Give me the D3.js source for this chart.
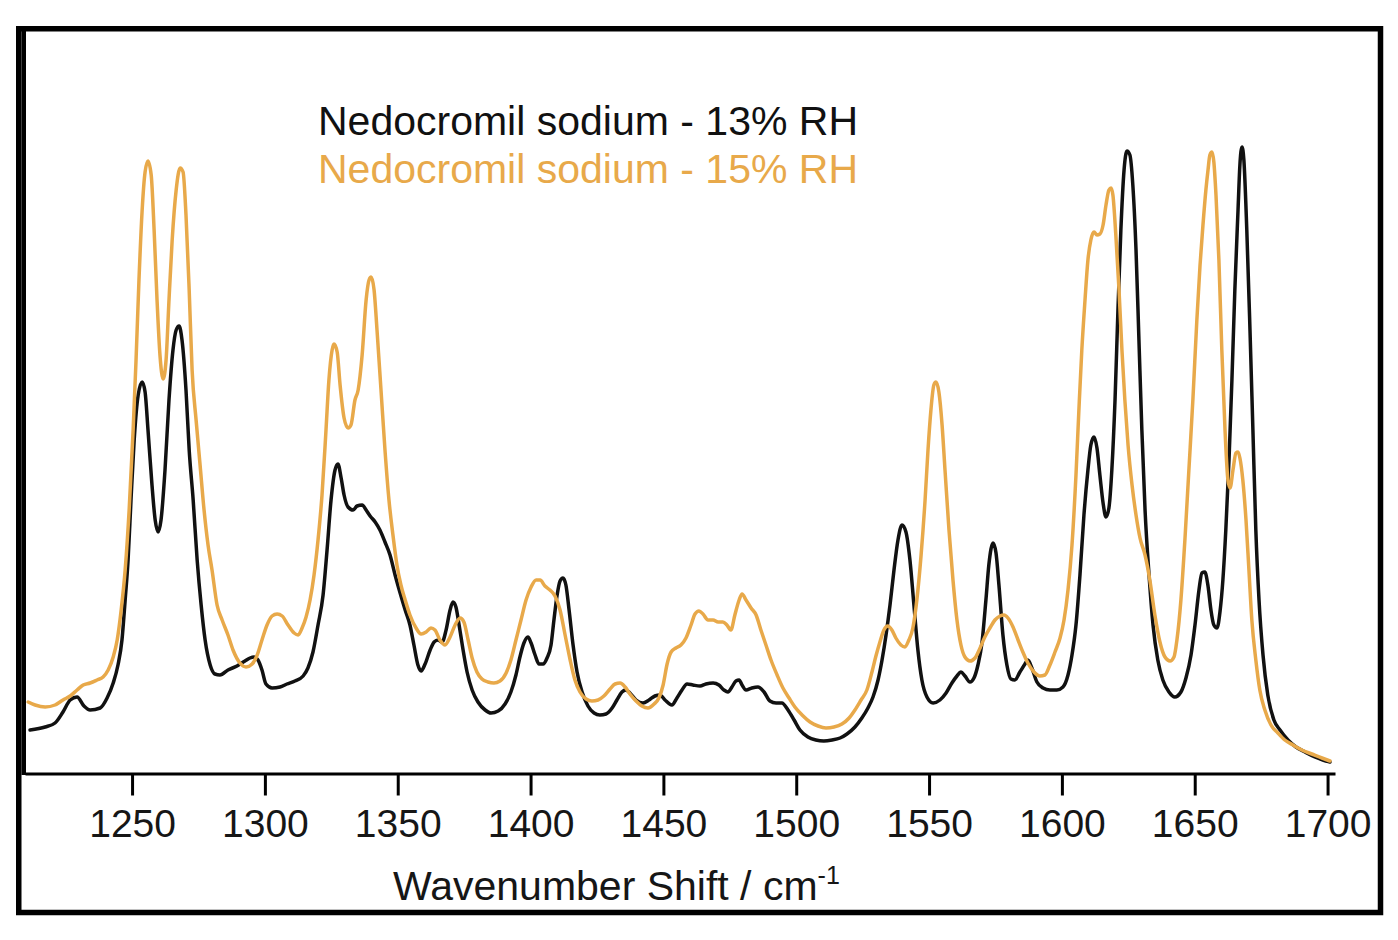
<!DOCTYPE html>
<html><head><meta charset="utf-8">
<script src="https://cdn.jsdelivr.net/npm/d3@7"></script>
<style>body{margin:0;background:#fff} svg{display:block}</style>
</head><body><svg id="c" width="1398" height="940"></svg>
<script>
// Wavenumber (cm-1) and Raman intensity (a.u.)
const wn13=[1211.6,1217.3,1221.0,1224.0,1226.7,1229.3,1231.9,1234.2,1238.0,1240.6,
1242.9,1244.7,1246.2,1247.4,1248.5,1249.6,1250.8,1252.3,1253.8,1254.9,
1256.0,1257.5,1258.7,1259.8,1260.9,1262.4,1263.9,1265.4,1266.6,1267.7,
1268.8,1270.3,1271.5,1273.0,1274.5,1276.0,1277.5,1279.4,1281.2,1283.1,
1286.1,1289.5,1292.5,1294.4,1295.9,1297.4,1298.9,1300.4,1302.7,1305.7,
1308.3,1311.3,1314.4,1316.2,1318.1,1320.0,1321.9,1323.4,1324.9,1326.4,
1327.5,1328.7,1329.8,1331.3,1333.2,1334.7,1336.6,1338.1,1339.6,1341.5,
1343.3,1345.2,1347.1,1349.0,1350.9,1352.8,1354.6,1356.1,1357.6,1358.8,
1360.3,1362.2,1363.7,1365.2,1366.7,1368.2,1369.7,1370.8,1371.9,1373.1,
1374.6,1376.1,1378.0,1380.2,1382.9,1385.1,1387.8,1390.4,1392.6,1394.5,
1396.0,1397.5,1399.0,1400.2,1401.7,1403.2,1404.7,1406.2,1407.7,1408.8,
1410.0,1411.1,1412.2,1413.3,1414.5,1416.0,1417.5,1419.4,1421.6,1423.9,
1426.1,1428.4,1430.7,1432.5,1434.4,1435.9,1437.4,1439.7,1442.3,1444.6,
1446.8,1448.7,1450.6,1453.2,1455.1,1457.0,1458.9,1461.1,1463.8,1466.0,
1468.7,1470.9,1472.8,1474.3,1475.8,1477.3,1478.5,1479.6,1481.1,1483.3,
1485.6,1487.9,1490.1,1492.4,1494.6,1496.9,1499.2,1501.4,1504.4,1507.4,
1510.4,1513.5,1516.5,1519.1,1522.1,1524.7,1527.0,1528.9,1530.8,1532.3,
1533.8,1535.3,1536.8,1538.3,1539.8,1541.3,1542.8,1544.3,1545.8,1547.3,
1549.2,1551.5,1554.1,1556.4,1558.6,1560.5,1562.0,1563.5,1565.4,1566.9,
1568.4,1569.9,1571.4,1572.5,1574.1,1575.2,1576.3,1577.8,1579.3,1580.8,
1582.3,1584.2,1586.1,1587.2,1588.7,1590.6,1592.9,1595.5,1598.1,1600.4,
1602.3,1603.8,1605.3,1606.8,1608.3,1609.8,1610.9,1612.1,1613.2,1614.3,
1615.5,1616.6,1617.7,1618.8,1620.0,1621.1,1622.2,1623.4,1624.5,1625.6,
1626.7,1627.9,1629.0,1630.1,1631.3,1632.8,1634.3,1636.1,1638.0,1640.3,
1642.5,1644.8,1646.7,1648.6,1650.1,1651.6,1652.7,1653.8,1655.0,1656.1,
1657.2,1658.4,1659.5,1660.6,1661.7,1662.9,1664.0,1665.1,1666.3,1667.0,
1667.8,1668.5,1669.6,1670.8,1671.9,1673.0,1674.2,1675.7,1677.5,1679.8,
1682.1,1685.1,1688.1,1691.5,1695.2,1698.2,1700.9];
const int13=[43,46,50,61,73,76,67,63,65,75,
90,108,133,173,213,273,333,378,391,381,
343,288,253,241,253,303,373,423,443,447,
433,383,323,273,213,168,133,108,99,98,
103,107,112,115,116,113,103,89,85,86,
89,92,97,105,121,148,178,223,273,303,
309,295,278,266,263,267,268,263,257,251,
243,231,218,198,180,163,148,128,108,102,
109,123,131,133,131,143,163,171,166,148,
123,101,83,71,63,60,62,69,81,98,
116,130,136,130,118,109,109,115,128,153,
178,192,195,188,163,128,101,81,67,60,
58,59,65,73,81,83,80,73,70,73,
77,78,73,68,75,83,89,88,87,89,
90,88,83,81,86,92,93,88,83,85,
86,81,72,70,70,63,53,43,36,33,
32,33,35,39,46,55,65,76,93,113,
138,168,203,233,248,241,213,168,123,93,
76,70,73,80,90,97,101,97,91,95,
108,130,173,208,230,220,188,138,108,94,
93,101,109,113,105,91,85,83,83,86,
98,118,148,198,258,303,328,336,325,298,
270,256,265,303,373,463,543,603,622,618,
588,523,433,343,263,198,148,113,93,81,
76,81,95,118,148,183,200,201,187,163,
148,145,161,193,243,313,393,483,563,608,
626,613,543,443,343,243,173,118,78,53,
43,33,26,21,16,13,11];

const wn15=[1210.9,1213.5,1217.3,1221.0,1224.0,1226.7,1229.3,1231.6,1234.2,1236.8,
1239.1,1241.0,1242.9,1244.4,1245.9,1247.4,1248.9,1250.4,1251.5,1252.6,
1253.8,1254.9,1256.0,1257.2,1258.3,1259.4,1260.5,1261.7,1262.8,1263.9,
1265.1,1266.6,1268.1,1269.2,1270.3,1271.5,1272.6,1274.1,1275.6,1277.1,
1278.6,1280.1,1282.0,1283.9,1286.1,1288.0,1290.6,1292.9,1295.2,1297.1,
1298.9,1300.8,1302.7,1304.6,1306.5,1308.7,1311.0,1312.5,1314.0,1315.5,
1317.0,1318.5,1320.0,1321.5,1323.0,1324.1,1325.3,1326.0,1327.2,1328.3,
1329.8,1331.3,1332.4,1333.9,1335.1,1336.6,1338.1,1339.2,1340.0,1341.1,
1342.2,1343.7,1345.2,1346.7,1348.2,1349.7,1351.2,1352.8,1354.6,1356.9,
1358.8,1360.7,1362.5,1364.0,1365.9,1367.8,1369.7,1371.6,1373.5,1374.9,
1376.5,1378.0,1379.8,1381.7,1384.0,1386.2,1388.5,1390.8,1392.6,1394.5,
1396.4,1398.3,1400.2,1402.1,1403.6,1405.4,1407.3,1409.2,1411.1,1413.0,
1414.9,1416.7,1418.6,1420.9,1423.1,1425.4,1427.6,1429.9,1431.8,1433.7,
1435.6,1437.4,1439.7,1441.9,1444.2,1446.5,1448.3,1449.9,1451.4,1452.9,
1454.7,1456.6,1458.5,1460.4,1461.9,1463.4,1464.9,1466.8,1468.7,1470.6,
1472.4,1473.9,1475.4,1476.9,1478.5,1479.6,1481.1,1483.0,1484.9,1486.7,
1488.6,1490.5,1492.8,1495.0,1497.3,1499.5,1502.2,1505.2,1508.2,1511.2,
1514.2,1517.2,1519.9,1522.1,1524.4,1526.6,1528.5,1530.0,1531.5,1533.0,
1534.5,1536.0,1537.5,1539.4,1540.9,1542.4,1543.9,1545.4,1547.0,1548.5,
1549.6,1550.7,1551.8,1552.6,1553.7,1554.9,1556.0,1557.5,1559.0,1560.5,
1562.0,1563.5,1565.4,1567.3,1569.2,1571.0,1572.9,1574.8,1576.7,1578.2,
1579.7,1581.6,1583.5,1585.3,1587.2,1589.5,1591.7,1593.6,1595.5,1597.4,
1599.3,1600.8,1602.3,1603.8,1605.3,1606.4,1607.5,1608.7,1609.8,1610.9,
1612.1,1613.2,1614.3,1615.5,1616.6,1617.7,1618.5,1619.2,1620.3,1621.5,
1622.6,1623.7,1624.9,1626.4,1627.9,1629.4,1631.3,1633.1,1635.0,1636.9,
1638.8,1640.7,1642.2,1643.3,1644.8,1646.3,1647.8,1649.3,1650.8,1652.0,
1653.1,1654.2,1655.0,1655.7,1656.5,1657.2,1658.0,1659.1,1660.2,1661.4,
1662.5,1663.3,1664.4,1665.5,1666.3,1667.0,1668.1,1669.3,1670.4,1671.5,
1673.0,1674.5,1676.4,1678.7,1681.3,1683.9,1687.0,1690.3,1694.1,1697.9,
1700.9];
const int15=[71,68,66,68,73,77,83,88,90,93,
96,103,116,133,163,203,263,343,413,493,
563,601,612,598,543,473,418,394,413,473,
533,583,605,601,558,483,403,353,308,263,
228,203,168,153,138,123,110,106,109,118,
133,148,157,159,157,148,140,138,145,156,
173,198,233,278,343,393,423,429,421,388,
355,345,348,373,383,418,473,493,496,483,
443,383,323,273,238,208,188,173,158,145,
139,141,145,143,133,128,136,148,155,151,
133,115,101,94,91,90,92,100,113,133,
153,173,186,193,193,187,183,177,163,138,
113,93,81,74,72,73,77,84,89,90,
86,79,72,67,65,69,75,88,109,121,
125,128,135,148,159,162,159,153,153,151,
151,148,143,158,173,179,173,165,158,143,
128,113,98,85,75,66,58,51,47,45,
46,49,55,63,73,83,101,117,131,143,
147,143,135,128,126,133,145,173,218,273,
323,363,388,391,381,348,303,243,193,153,
128,116,112,115,125,136,145,153,157,158,
155,146,133,121,110,101,97,98,108,121,
135,153,183,228,298,363,423,473,513,533,
541,538,539,548,568,583,585,578,538,483,
423,373,328,288,258,235,218,193,158,131,
116,112,116,133,173,233,303,373,453,508,
548,583,603,618,621,611,578,513,423,343,
293,285,303,320,321,315,293,253,203,153,
113,83,63,48,40,33,28,23,19,15,
12];

const xTicks=[1250,1300,1350,1400,1450,1500,1550,1600,1650,1700];
const seriesLabels=["Nedocromil sodium - 13% RH","Nedocromil sodium - 15% RH"];
const seriesColors=["#111111","#E8A94A"];
const xTitle="Wavenumber Shift / cm";
const xTitleSup="-1";

const FONT='"Liberation Sans", Arial, Helvetica, sans-serif';
const svg=d3.select("#c");
svg.append("rect").attr("width",1398).attr("height",940).attr("fill","#fff");

const x=d3.scaleLinear().domain([1209.7,1702.8]).range([25,1335]);
const y=d3.scaleLinear().domain([0,745]).range([773,28]);

const series=[
  {pts:d3.zip(wn13,int13),color:seriesColors[0]},
  {pts:d3.zip(wn15,int15),color:seriesColors[1]}
];
const line=d3.line().x(d=>x(d[0])).y(d=>y(d[1])).curve(d3.curveMonotoneX);
svg.append("g").selectAll("path").data(series).join("path")
  .attr("d",d=>line(d.pts)).attr("fill","none")
  .attr("stroke",d=>d.color).attr("stroke-width",3.5)
  .attr("stroke-linejoin","round").attr("stroke-linecap","round");

// frame
svg.append("rect").attr("x",18.75).attr("y",28.75).attr("width",1361.75).attr("height",883.75)
  .attr("fill","none").attr("stroke","#000").attr("stroke-width",5.5);
// y axis line
svg.append("line").attr("x1",23.75).attr("x2",23.75).attr("y1",30).attr("y2",775)
  .attr("stroke","#000").attr("stroke-width",4.5);

// x axis
const ax=svg.append("g").attr("transform","translate(0,773.5)")
  .call(d3.axisBottom(x).tickValues(xTicks).tickSize(22).tickSizeOuter(0).tickPadding(14).tickFormat(d3.format("d")));
ax.attr("font-size",39).attr("font-family",FONT);
ax.select(".domain").attr("stroke","#000").attr("stroke-width",3);
ax.selectAll(".tick line").attr("stroke","#000").attr("stroke-width",3);
ax.selectAll(".tick text").attr("fill","#161616");

// axis title
const t=svg.append("text").attr("x",393).attr("y",900).attr("font-family",FONT)
  .attr("font-size",41).attr("fill","#161616").text(xTitle);
t.append("tspan").attr("font-size",25).attr("dy",-16).text(xTitleSup);

// legend
svg.append("g").selectAll("text").data(seriesLabels).join("text")
  .attr("x",318).attr("y",(d,i)=>135+i*48).attr("font-family",FONT).attr("font-size",41)
  .attr("fill",(d,i)=>seriesColors[i]).text(d=>d);
</script></body></html>
